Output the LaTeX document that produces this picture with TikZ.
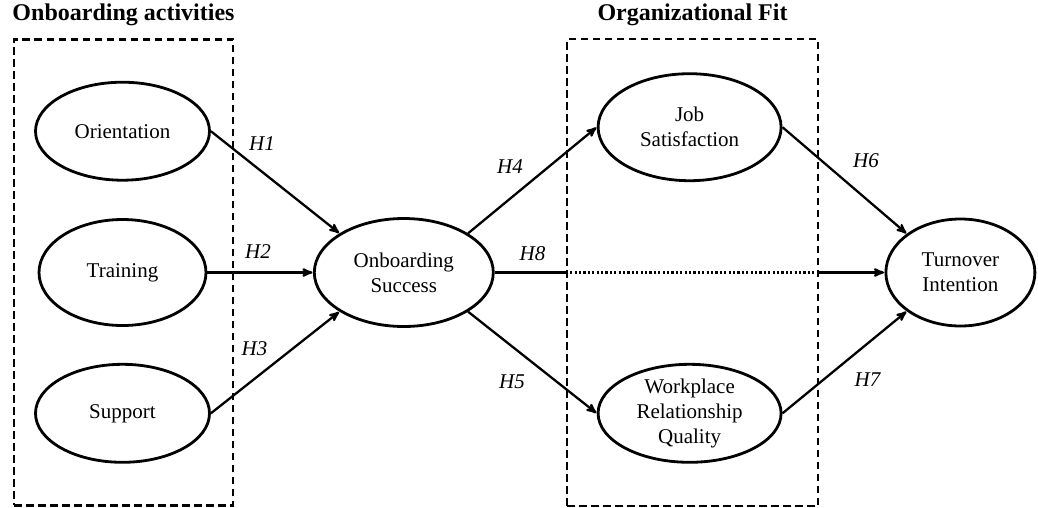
\documentclass[tikz,border=0pt]{standalone}
\usepackage{fontspec}
\setmainfont{Liberation Serif}
\usepackage{tikz}
\usetikzlibrary{
  arrows,
  shapes.geometric,
  matrix,
  positioning
}

\begin{document}
\begin{tikzpicture}[
      x=1pt,y=-1pt,
      construct/.style={
         ellipse,
         inner sep=0pt,
         line width=2.8pt,
         draw=black,
         align=center,
         font=\fontsize{21}{25}\selectfont,
      },
      groupbox/.style={
         rectangle,
         inner sep=0pt,
         line width=2.6pt,
         draw=black,
         dash pattern=on 7.5pt off 4.5pt,
      },
      grouptitle/.style={
         inner sep=0pt,
         font=\fontsize{24}{28}\selectfont\bfseries,
      },
      hyp/.style={
         inner sep=0pt,
         font=\fontsize{21}{25}\selectfont\itshape,
      },
      point/.style={coordinate},>=stealth',line width=2.3pt,
      tip/.style={->,shorten >=0.5pt},
      dotline/.style={dash pattern=on 2.2pt off 2.2pt},
    ]
    \useasboundingbox (0,0) rectangle (1038,507);
    \matrix[column sep=102pt, row sep=35pt, nodes={anchor=center}, matrix anchor=n21.center] at (122.5,272.5) {
\node (n11) [construct, minimum width=174pt, minimum height=98pt] {Orientation}; & & \node (n13) [construct, minimum width=183pt, minimum height=107pt, yshift=4pt] {Job\\Satisfaction}; & \\
\node (n21) [construct, minimum width=167pt, minimum height=106pt] {Training}; & \node (n22) [construct, minimum width=179pt, minimum height=108pt] {Onboarding\\Success}; & & \node (n24) [construct, minimum width=149pt, minimum height=107pt] {Turnover\\Intention}; \\
\node (n31) [construct, minimum width=174pt, minimum height=98pt] {Support}; & & \node (n33) [construct, minimum width=183pt, minimum height=98pt] {Workplace\\Relationship\\Quality}; & \\
    };
    % dashed groups
    \node (box1) [groupbox, minimum width=219pt, minimum height=466pt] at (123.5,272.3) {};
    \node (box3) [groupbox, minimum width=251pt, minimum height=467pt] at (692.5,272.5) {};
    \node (t1) [grouptitle, above=11pt of box1] {Onboarding activities};
    \node (t3) [grouptitle, above=11pt of box3] {Organizational Fit};
    % paths
    \draw [tip] (n11.east) -- (n22.north west);
    \draw [tip] (n21.east) -- (n22.west);
    \draw [tip] (n31.east) -- (n22.south west);
    \draw [tip] (n22.north east) -- (n13.west);
    \draw [tip] (n22.south east) -- (n33.west);
    \draw [tip] (n13.east) -- (n24.north west);
    \draw [tip] (n33.east) -- (n24.south west);
    \node (p1) [point] at (box3.west |- n22.east) {};
    \node (p2) [point] at (box3.east |- n22.east) {};
    \draw (n22.east) -- (p1);
    \draw [dotline] (p1) -- (p2);
    \draw [tip] (p2) -- (n24.west);
    % hypotheses
    \node (h1) [hyp] at (262,144) {H1};
    \node (h2) [hyp] at (258,251.5) {H2};
    \node (h3) [hyp] at (254.5,349) {H3};
    \node (h4) [hyp] at (510,167) {H4};
    \node (h5) [hyp] at (512,381.5) {H5};
    \node (h6) [hyp] at (866,160.5) {H6};
    \node (h7) [hyp] at (867.5,380) {H7};
    \node (h8) [hyp] at (532.5,253.5) {H8};
\end{tikzpicture}
\end{document}
